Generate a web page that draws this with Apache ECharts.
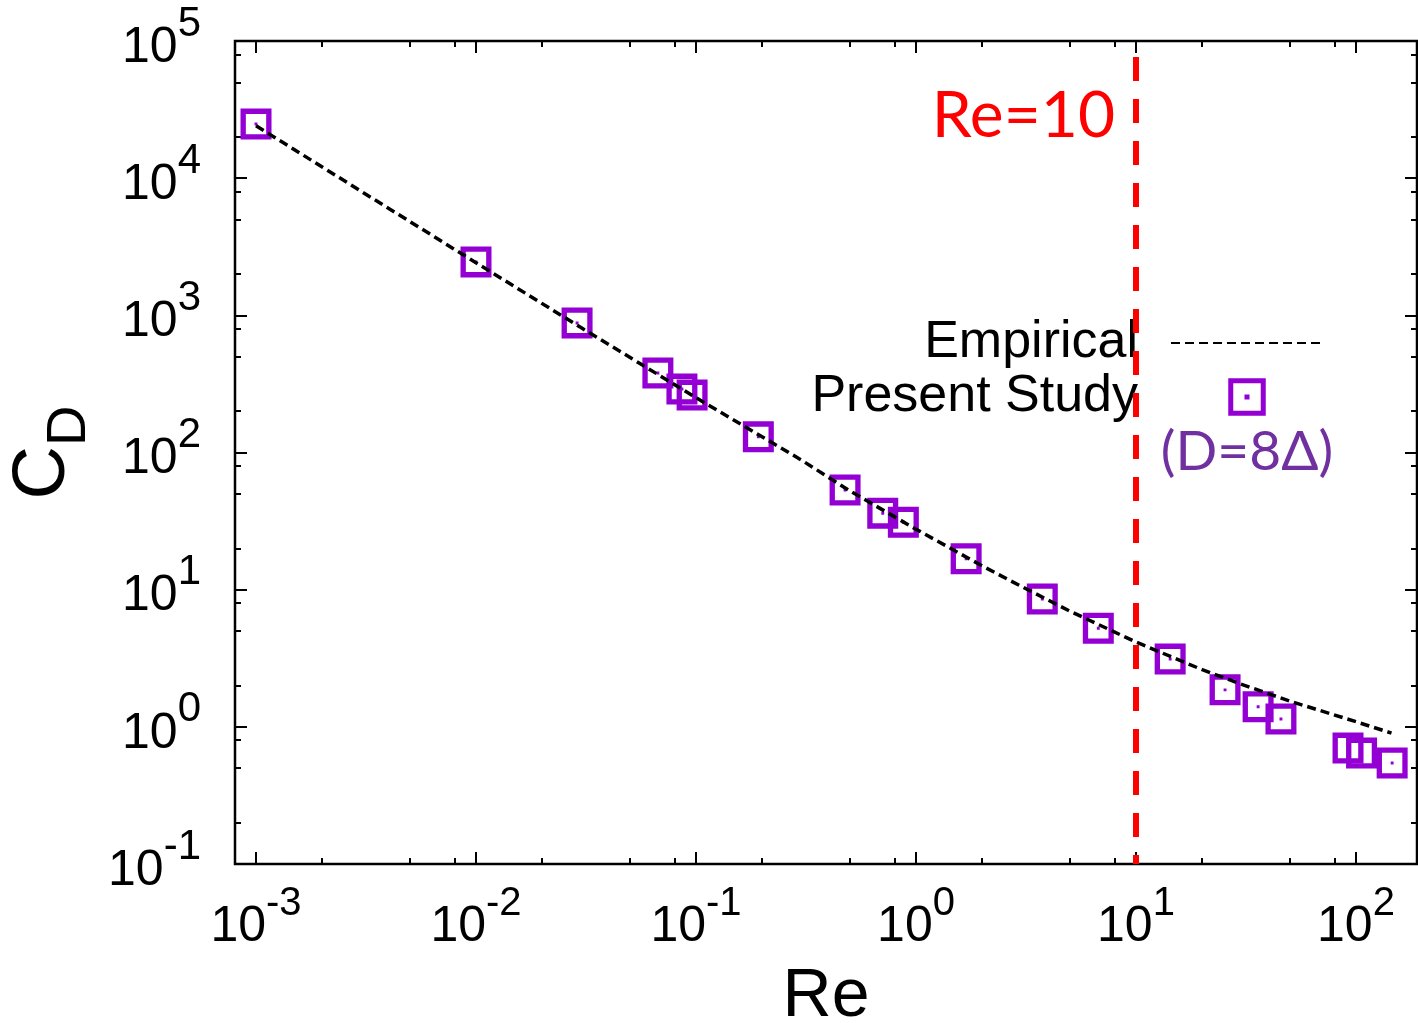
<!DOCTYPE html>
<html><head><meta charset="utf-8">
<script src="https://cdn.jsdelivr.net/npm/echarts@6/dist/echarts.min.js"></script>
<style>html,body{margin:0;padding:0;background:#fff}#c{width:1418px;height:1023px}</style>
</head><body><div id="c"></div>
<script>
// ---- data ----
const studyRe = [0.001, 0.01, 0.0288, 0.0671, 0.0863, 0.096, 0.192, 0.476, 0.706, 0.876, 1.69, 3.75, 6.74, 14.3, 25.4, 35.9, 45.6, 92, 106, 146];
const studyCd = [24800, 2450, 880, 380, 290, 262, 130, 53.3, 36.1, 31.0, 16.8, 8.55, 5.23, 3.12, 1.86, 1.40, 1.14, 0.70, 0.644, 0.545];
const empRe = [0.001, 0.003, 0.01, 0.03, 0.1, 0.3, 0.5, 1, 2, 3, 5, 10, 20, 30, 50, 100, 145];
const empCd = [24100, 8040, 2420, 814, 251, 88.5, 52.5, 27.6, 14.9, 10.6, 6.98, 4.15, 2.61, 2.05, 1.54, 1.09, 0.90];
const refRe = 10;
const refCd = [1e5, 0.1];
const xTickExp = [-3, -2, -1, 0, 1, 2];
const yTickExp = [-1, 0, 1, 2, 3, 4, 5];
const minorMult = [2, 5, 8];
const xRange = [-3.0955, 2.2773];
const yRange = [-1, 5];

const L = Math.log10;
const FONT = 'Liberation Sans';
const PURPLE = '#9400D3';
const symPath = 'path://M0 0H32V32H0Z M5.5 5.5V26.5H26.5V5.5Z M14.5 14.5H17.5V17.5H14.5Z';
const legPath = 'path://M0 0H30V30H0Z M4 4V26H26V4Z M13 13H17V17H13Z';

function minorVals(r) {
  const out = [];
  for (let d = Math.floor(r[0]); d <= Math.ceil(r[1]); d++) {
    for (const m of minorMult) {
      const v = d + L(m);
      if (v > r[0] + 1e-6 && v < r[1] - 1e-6) out.push(v);
    }
  }
  return out;
}
const xMinor = minorVals(xRange);
const yMinor = minorVals(yRange);

function fmt(v) { return '{b|10}{s|' + Math.round(v) + '}'; }

function mkAxis(isX, pos, major, withLabel) {
  const range = isX ? xRange : yRange;
  const majors = isX ? xTickExp : yTickExp;
  const minors = isX ? xMinor : yMinor;
  const ax = {
    type: 'value', position: pos, min: range[0], max: range[1],
    axisLine: { show: false, onZero: false }, splitLine: { show: false },
    axisTick: { show: true, inside: true, length: major ? 12 : 6,
      lineStyle: { color: '#000', width: 2 }, customValues: major ? majors : minors },
    axisLabel: { show: !!withLabel, customValues: majors, formatter: fmt,
      margin: isX ? 38 : 34, color: '#000', fontFamily: FONT,
      padding: isX ? 0 : [14, 0, 0, 0],
      rich: isX ? {
        b: { fontSize: 50, lineHeight: 50, verticalAlign: 'bottom', fontFamily: FONT, color: '#000' },
        s: { fontSize: 40, lineHeight: 40, verticalAlign: 'bottom', fontFamily: FONT, color: '#000', padding: [0, 0, 28, 0] }
      } : {
        b: { fontSize: 50, lineHeight: 50, verticalAlign: 'bottom', fontFamily: FONT, color: '#000' },
        s: { fontSize: 42, lineHeight: 42, verticalAlign: 'bottom', fontFamily: FONT, color: '#000', padding: [0, 0, 28, 0] }
      } },
    silent: true
  };
  return ax;
}

const xAxes = [mkAxis(true, 'bottom', true, true), mkAxis(true, 'bottom', false), mkAxis(true, 'top', true), mkAxis(true, 'top', false)];
const yAxes = [mkAxis(false, 'left', true, true), mkAxis(false, 'left', false), mkAxis(false, 'right', true), mkAxis(false, 'right', false)];
Object.assign(xAxes[0], { name: 'Re', nameLocation: 'middle', nameGap: 99,
  nameTextStyle: { fontFamily: FONT, fontSize: 68, color: '#000' } });
Object.assign(yAxes[0], { name: '{c|C}{d|D}', nameLocation: 'middle', nameGap: 132, nameRotate: 90,
  nameTextStyle: { color: '#000', rich: {
    c: { fontSize: 74, lineHeight: 74, verticalAlign: 'top', fontFamily: FONT, color: '#000' },
    d: { fontSize: 56, lineHeight: 56, verticalAlign: 'top', fontFamily: FONT, color: '#000', padding: [35, 0, 0, 0] }
  } } });

const chart = echarts.init(document.getElementById('c'), null, { renderer: 'canvas' });
chart.setOption({
  animation: false,
  backgroundColor: '#fff',
  grid: { left: 235, top: 41, width: 1182, height: 823, show: true, borderColor: '#000', borderWidth: 2.5,
    backgroundColor: 'transparent', containLabel: false, outerBoundsMode: 'none' },
  xAxis: xAxes,
  yAxis: yAxes,
  legend: {
    orient: 'vertical', align: 'right', right: 94, top: 317, padding: 0,
    itemWidth: 152, itemHeight: 37.5, itemGap: 2, selectedMode: false,
    textStyle: { fontFamily: FONT, fontSize: 52, lineHeight: 52, color: '#000', padding: [0, 28, 0, 0] },
    data: [
      { name: 'Empirical', itemStyle: { color: 'rgba(0,0,0,0)', borderColor: 'rgba(0,0,0,0)', borderWidth: 0 } },
      { name: 'Present Study', icon: legPath, itemStyle: { color: PURPLE, opacity: 1 } }
    ]
  },
  graphic: [
    { type: 'text', x: 1115, y: 116, z: 5, style: { text: 'Re=10', fontFamily: 'Lato', fontSize: 64, fill: '#FF0000', align: 'right', verticalAlign: 'middle' } },
    { type: 'text', x: 1247, y: 452, z: 5, style: { text: '(D=8\u0394)', fontFamily: 'Lato', fontSize: 55, fill: '#7030A0', align: 'center', verticalAlign: 'middle' } }
  ],
  series: [
    { name: 'Present Study', type: 'scatter', z: 3, symbol: symPath, symbolSize: 31,
      itemStyle: { color: PURPLE, opacity: 1 }, silent: true,
      data: studyRe.map((r, i) => [L(r), L(studyCd[i])]) },
    { name: 'Empirical', type: 'line', z: 4, symbol: 'none', silent: true,
      lineStyle: { color: '#000', width: 3.5, type: [9, 5] }, itemStyle: { color: '#000' },
      data: empRe.map((r, i) => [L(r), L(empCd[i])]) },
    { name: 'ref', type: 'line', z: 10, symbol: 'none', silent: true,
      lineStyle: { color: '#FF0000', width: 6, type: [24, 18], dashOffset: 26 },
      data: refCd.map(c => [L(refRe), L(c)]) }
  ]
});
</script></body></html>
